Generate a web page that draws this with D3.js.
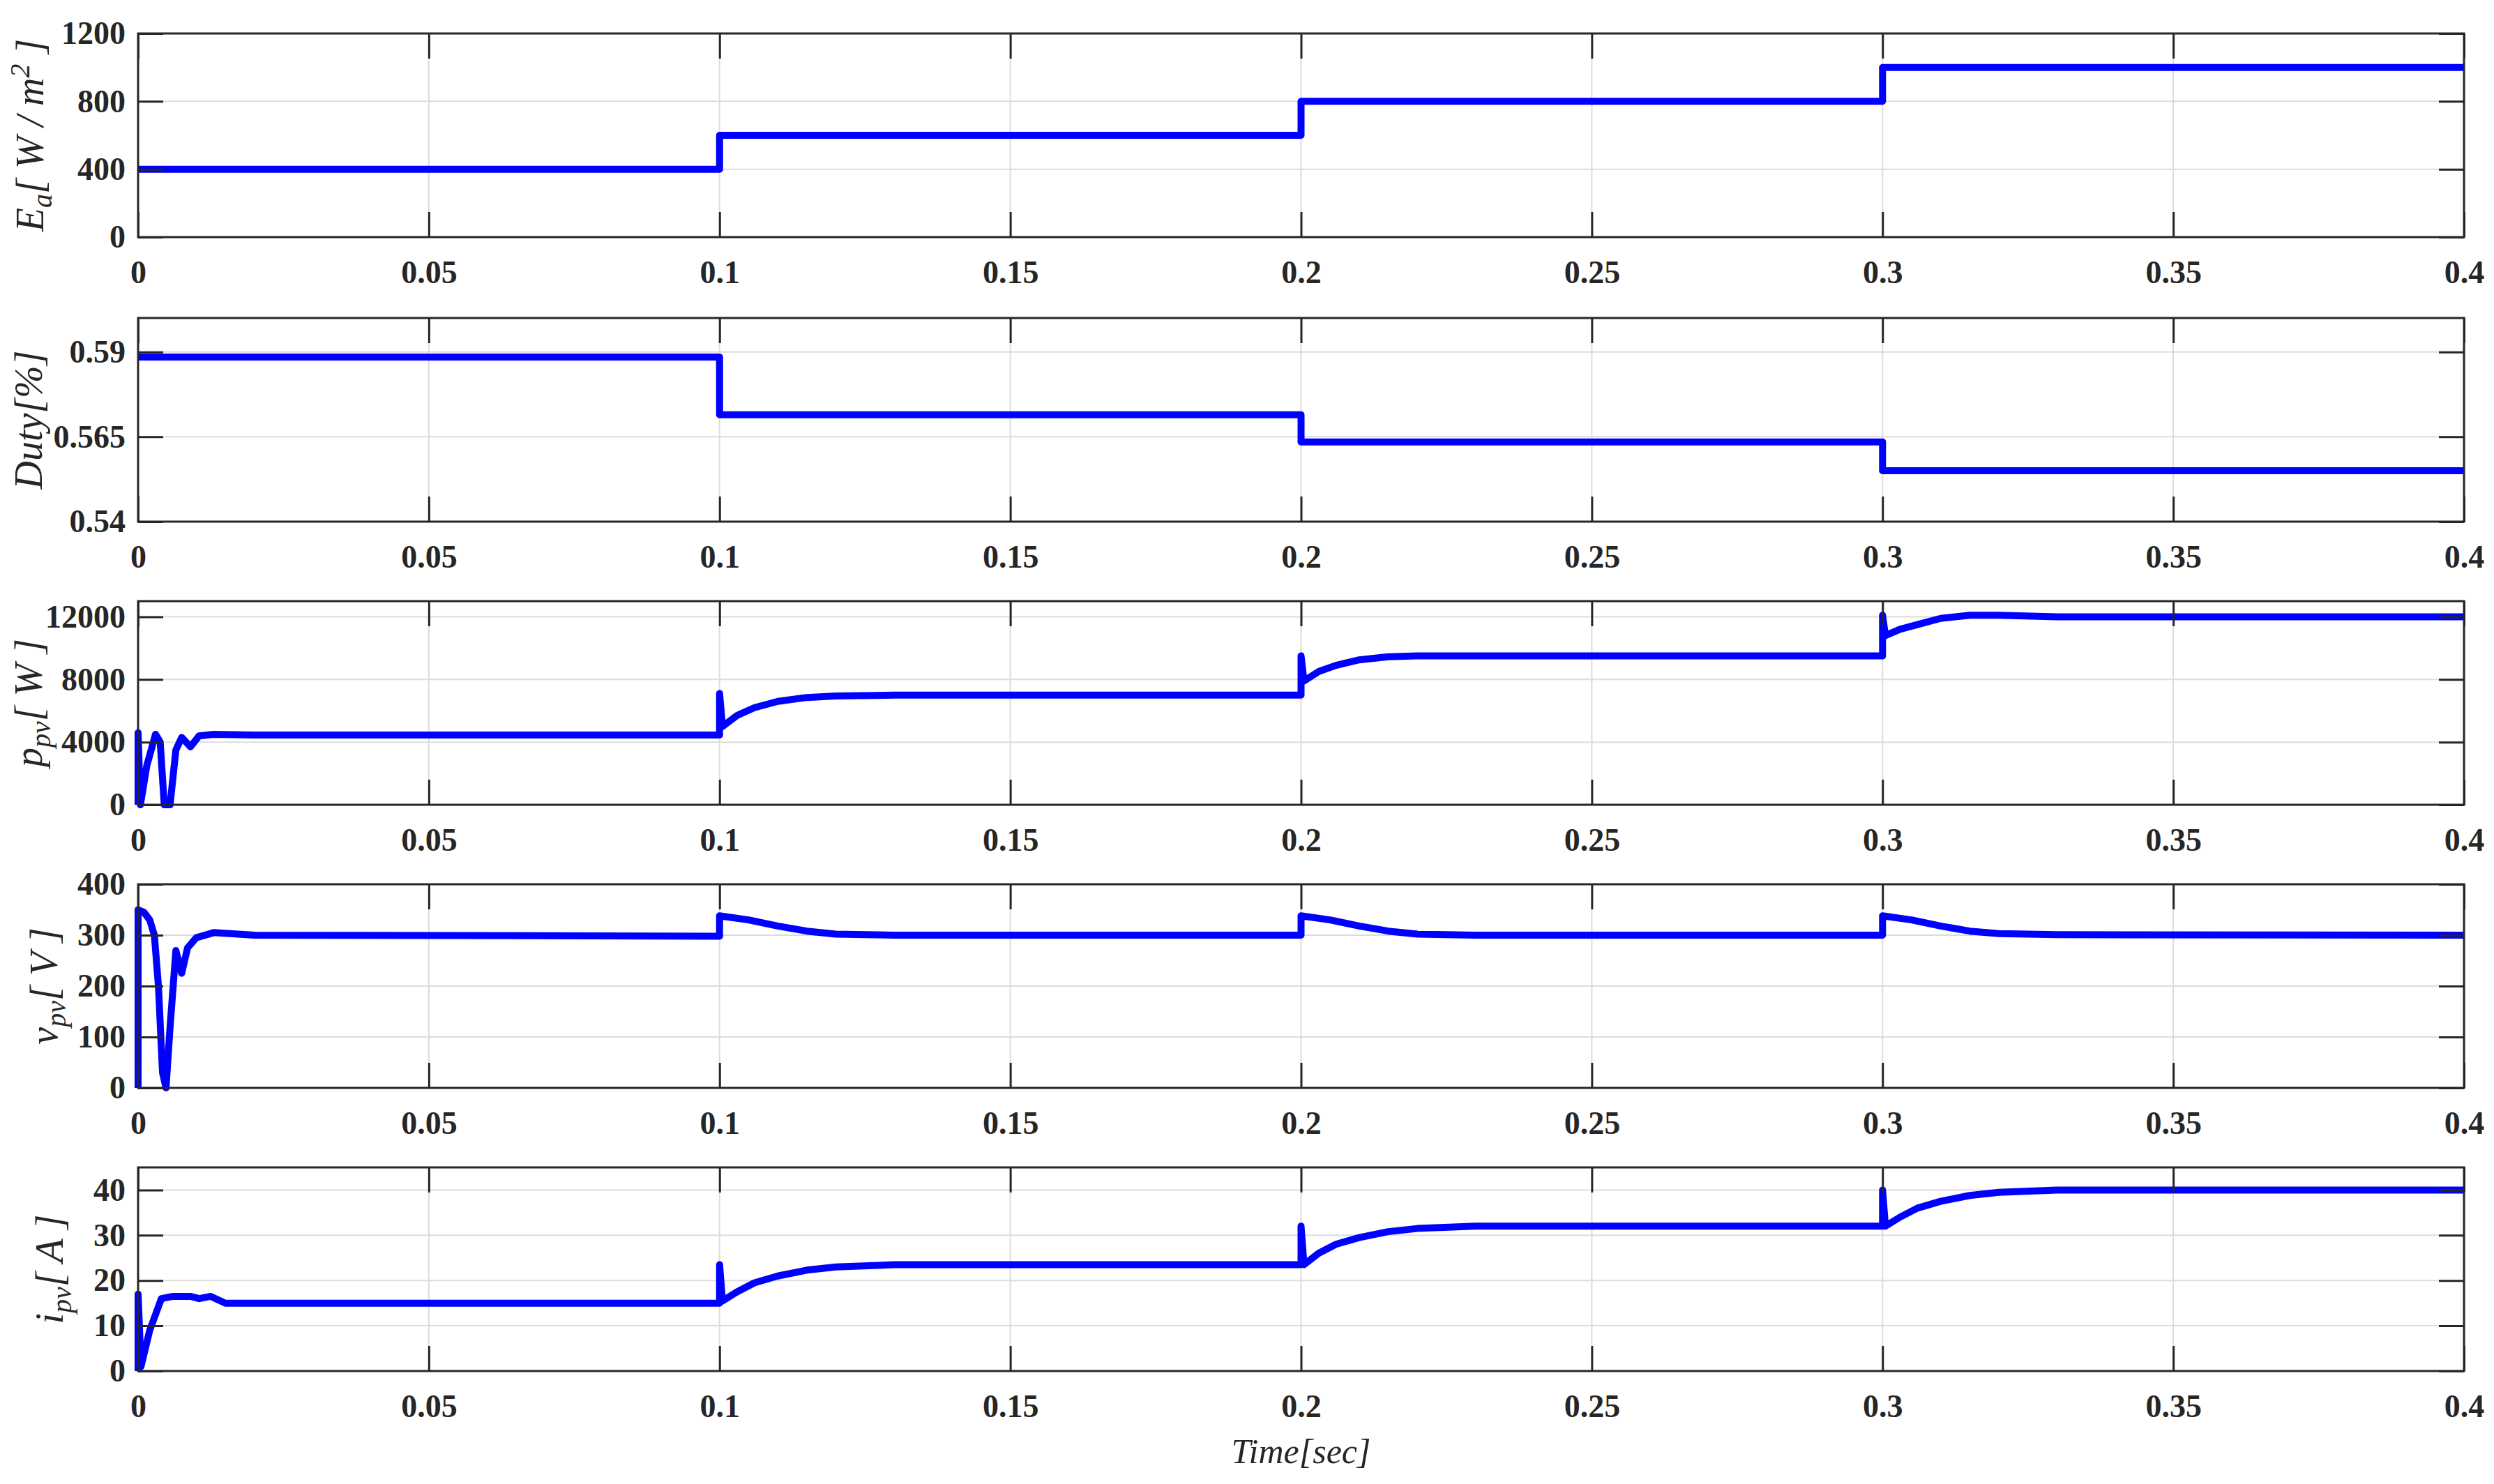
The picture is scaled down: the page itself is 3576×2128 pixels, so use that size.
<!DOCTYPE html>
<html><head><meta charset="utf-8">
<script src="https://cdn.jsdelivr.net/npm/d3@7"></script>
<style>body{margin:0;background:#fff}</style></head>
<body><svg id="c" width="3576" height="2128"></svg>
<script>
const xTicks=[0,0.05,0.1,0.15,0.2,0.25,0.3,0.35,0.4];
const irrT=[0,0.1,0.1,0.2,0.2,0.3,0.3,0.4];
const irrV=[400,400,600,600,800,800,1000,1000];
const dutyT=[0,0.1,0.1,0.2,0.2,0.3,0.3,0.4];
const dutyV=[0.5885,0.5885,0.5715,0.5715,0.5635,0.5635,0.555,0.555];
const pT=[0,0,0.0004,0.0015,0.003,0.0038,0.0045,0.0055,0.0065,0.0075,0.009,0.0105,0.013,0.02,0.1,0.1,0.1005,0.103,0.106,0.11,0.115,0.12,0.13,0.2,0.2,0.2005,0.203,0.206,0.21,0.215,0.22,0.3,0.3,0.3005,0.303,0.306,0.31,0.315,0.32,0.33,0.4];
const pV=[0,4600,0,2500,4500,4000,0,0,3500,4300,3700,4400,4500,4450,4450,7100,5000,5700,6200,6600,6850,6950,7000,7000,9500,7900,8500,8900,9250,9450,9500,9500,12100,10800,11200,11500,11900,12100,12100,12000,12000];
const vT=[0,0,0.001,0.002,0.0028,0.0035,0.0042,0.0048,0.0055,0.0065,0.0075,0.0085,0.01,0.013,0.02,0.1,0.1,0.105,0.11,0.115,0.12,0.13,0.2,0.2,0.205,0.21,0.215,0.22,0.23,0.3,0.3,0.305,0.31,0.315,0.32,0.33,0.4];
const vV=[0,350,345,330,300,200,30,0,120,270,225,275,295,305,300,298,338,330,318,308,302,300,300,338,330,318,308,302,300,300,338,330,318,308,303,301,300];
const iT=[0,0,0.0005,0.002,0.004,0.006,0.009,0.0105,0.0125,0.015,0.02,0.1,0.1,0.1005,0.103,0.106,0.11,0.115,0.12,0.13,0.2,0.2,0.2005,0.203,0.206,0.21,0.215,0.22,0.23,0.3,0.3,0.3005,0.303,0.306,0.31,0.315,0.32,0.33,0.4];
const iV=[0,17,1,9,16,16.5,16.5,16,16.5,15,15,15,23.5,15.5,17.5,19.5,21,22.3,23,23.5,23.5,32,23.5,26,28,29.5,30.8,31.5,32,32,40,32,34,36,37.5,38.8,39.5,40,40];

const W=3576, L=198, R=3533, H=292;
const panels=[
 {t:irrT,v:irrV,top:48,dom:[0,1200],ticks:[0,400,800,1200],fmt:d=>d,lab:["E","a","[ W / m","2"," ]"],lx:62},
 {t:dutyT,v:dutyV,top:456,dom:[0.54,0.6],ticks:[0.54,0.565,0.59],fmt:d=>String(d),lab:["Duty[%]"],lx:60},
 {t:pT,v:pV,top:862,dom:[0,13000],ticks:[0,4000,8000,12000],fmt:d=>d,lab:["p","pv","[ W ]"],lx:60},
 {t:vT,v:vV,top:1268,dom:[0,400],ticks:[0,100,200,300,400],fmt:d=>d,lab:["v","pv","[ V ]"],lx:82},
 {t:iT,v:iV,top:1674,dom:[0,45],ticks:[0,10,20,30,40],fmt:d=>d,lab:["i","pv","[ A ]"],lx:90}
];
const svg=d3.select("#c");
const x=d3.scaleLinear().domain([0,0.4]).range([L,R]);
const font="'Liberation Serif','Times New Roman',serif";
panels.forEach(p=>{
  const y=d3.scaleLinear().domain(p.dom).range([p.top+H,p.top]);
  const g=svg.append("g");
  g.selectAll(".gx").data(xTicks).join("line").attr("x1",d=>x(d)).attr("x2",d=>x(d)).attr("y1",p.top).attr("y2",p.top+H).attr("stroke","#dcdcdc").attr("stroke-width",2);
  g.selectAll(".gy").data(p.ticks).join("line").attr("x1",L).attr("x2",R).attr("y1",d=>y(d)).attr("y2",d=>y(d)).attr("stroke","#dcdcdc").attr("stroke-width",2);
  const line=d3.line().x(d=>x(d[0])).y(d=>y(d[1]));
  g.append("path").datum(p.t.map((t,i)=>[t,p.v[i]])).attr("d",line).attr("fill","none").attr("stroke","#0000ff").attr("stroke-width",10).attr("stroke-linejoin","round");
  g.append("rect").attr("x",L).attr("y",p.top).attr("width",R-L).attr("height",H).attr("fill","none").attr("stroke","#262626").attr("stroke-width",3);
  const ax=d3.axisBottom(x).tickValues(xTicks).tickFormat(d=>d===0?"0":String(d)).tickSizeInner(-36).tickSizeOuter(0).tickPadding(50);
  const ga=g.append("g").attr("transform",`translate(0,${p.top+H})`).call(ax);
  const axt=d3.axisTop(x).tickValues(xTicks).tickFormat("").tickSizeInner(-36).tickSizeOuter(0);
  const gt=g.append("g").attr("transform",`translate(0,${p.top})`).call(axt);
  const ay=d3.axisLeft(y).tickValues(p.ticks).tickFormat(p.fmt).tickSizeInner(-36).tickSizeOuter(0).tickPadding(18);
  const gy=g.append("g").attr("transform",`translate(${L},0)`).call(ay);
  const ayr=d3.axisRight(y).tickValues(p.ticks).tickFormat("").tickSizeInner(-36).tickSizeOuter(0);
  const gr=g.append("g").attr("transform",`translate(${R},0)`).call(ayr);
  [ga,gt,gy,gr].forEach(a=>{a.select(".domain").remove();a.selectAll("line").attr("stroke","#262626").attr("stroke-width",3);
    a.selectAll("text").attr("font-family",font).attr("font-weight","bold").attr("font-size",46).attr("fill","#262626");});
  ga.selectAll("text").attr("dy","0.35em");
  const cy=p.top+H/2;
  const lt=g.append("text").attr("transform",`translate(${p.lx},${cy}) rotate(-90)`).attr("text-anchor","middle")
    .attr("font-family",font).attr("font-style","italic").attr("font-size",56).attr("fill","#262626");
  const lab=p.lab;
  if(lab.length===1) lt.text(lab[0]);
  else if(lab.length===3){lt.append("tspan").text(lab[0]);lt.append("tspan").attr("font-size",40).attr("dy",12).text(lab[1]);lt.append("tspan").attr("dy",-12).text(lab[2]);}
  else {lt.append("tspan").text(lab[0]);lt.append("tspan").attr("font-size",40).attr("dy",12).text(lab[1]);lt.append("tspan").attr("dy",-12).text(lab[2]);lt.append("tspan").attr("font-size",40).attr("dy",-20).text(lab[3]);lt.append("tspan").attr("dy",20).text(lab[4]);}
});
svg.append("text").attr("x",(L+R)/2).attr("y",2098).attr("text-anchor","middle").attr("font-family",font).attr("font-style","italic").attr("font-size",50).attr("fill","#262626").text("Time[sec]");
</script></body></html>
